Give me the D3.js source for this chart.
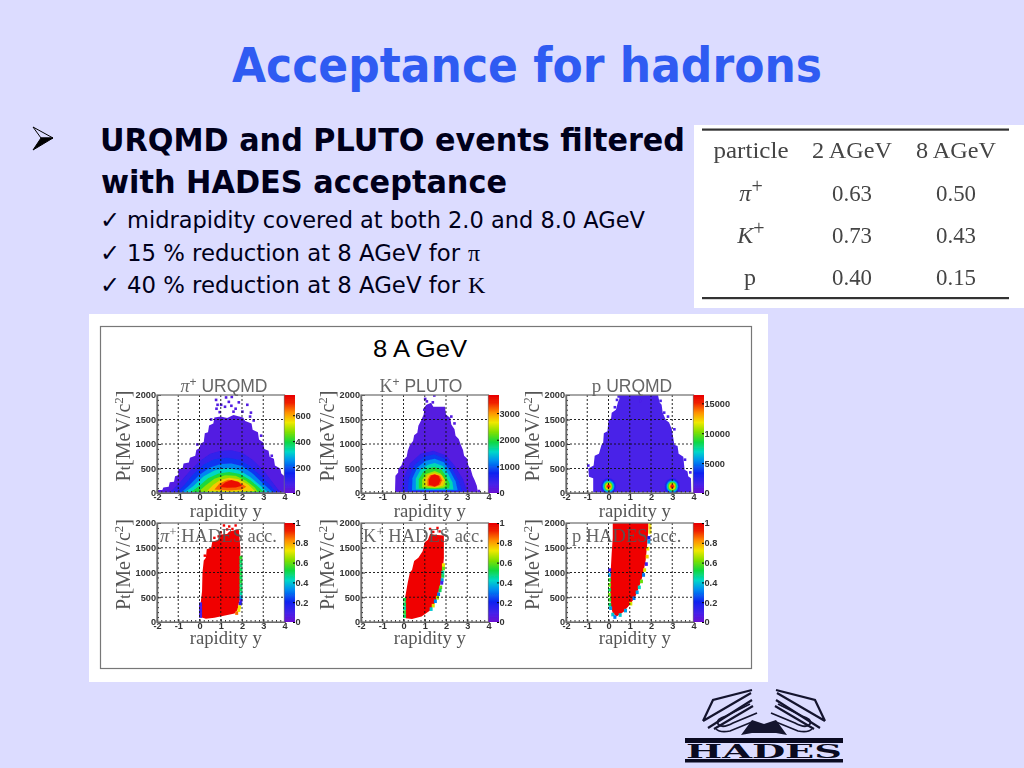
<!DOCTYPE html>
<html><head><meta charset="utf-8">
<script src="https://cdn.jsdelivr.net/npm/d3@7/dist/d3.min.js"></script>
<style>
html,body{margin:0;padding:0;background:#dcdcff;overflow:hidden}
svg{display:block}
.tick text{font-family:"Liberation Sans";font-weight:bold;font-size:9.2px;fill:#333}
</style></head><body><svg id="c" width="1024" height="768"></svg>
<script>
// ---------- slide text ----------
const slideTitle = "Acceptance for hadrons";
const headLines = ["URQMD and PLUTO events filtered", "with HADES acceptance"];
const subLines = ["midrapidity covered at both 2.0 and 8.0 AGeV", "15 % reduction at 8 AGeV for", "40 % reduction at 8 AGeV for"];
const subSymbols = ["", "π", "K"];
const energyLabel = "8 A GeV";
// ---------- table ----------
const tableHeader = ["particle", "2 AGeV", "8 AGeV"];
const tableParticles = [["π","+"], ["K","+"], ["p",""]];
const table2AGeV = ["0.63", "0.73", "0.40"];
const table8AGeV = ["0.50", "0.43", "0.15"];
// ---------- axis ticks ----------
const rapidityTicks = [-2,-1,0,1,2,3,4];
const ptTicks = [0,500,1000,1500,2000];
const pionBarTicks = [0,200,400,600];
const kaonBarTicks = [0,1000,2000,3000];
const protonBarTicks = [0,5000,10000,15000];
const accBarTicks = [0,0.2,0.4,0.6,0.8,1];
// ---------- pi+ URQMD: iso-density outlines as [rapidity, Pt] ----------
const pionLevels = [45,100,170,240,320,400,480,570,650,730];
const pionShapes = [
 [[-2,10],[-1.95,60],[-1.75,60],[-1.7,110],[-1.45,130],[-1.4,220],[-1.2,230],[-1.15,340],[-1,360],[-1,490],[-.8,500],[-.75,600],[-.5,620],[-.45,720],[-.2,760],[-.15,880],[0,920],[.05,1010],[.2,1040],[.25,1220],[.4,1240],[.45,1380],[.65,1420],[.7,1540],[1.0,1560],[1.3,1530],[1.6,1590],[2.05,1540],[2.15,1470],[2.45,1420],[2.5,1290],[2.75,1240],[2.8,1090],[3,1030],[3.05,900],[3.25,860],[3.3,740],[3.5,700],[3.55,560],[3.8,500],[3.85,400],[4,340],[4,5],[-2,5]],
 [[-1.4,15],[-1,180],[-.5,430],[0,650],[.5,800],[1,860],[1.5,870],[2,820],[2.5,680],[3,470],[3.4,240],[3.8,15]],
 [[-1.05,15],[-.7,170],[-.3,380],[.2,580],[.7,690],[1.3,720],[1.9,680],[2.4,540],[2.9,340],[3.3,170],[3.6,15]],
 [[-.85,15],[-.5,150],[0,370],[.5,520],[1,590],[1.5,600],[2,550],[2.5,400],[3,190],[3.45,15]],
 [[-.7,15],[-.3,140],[.2,340],[.7,460],[1.3,510],[1.9,460],[2.4,320],[2.9,140],[3.2,15]],
 [[-.4,18],[0,150],[.4,300],[.9,400],[1.4,430],[1.9,390],[2.4,260],[2.8,110],[3,18]],
 [[-.05,25],[.3,160],[.7,290],[1.2,360],[1.7,350],[2.2,250],[2.6,110],[2.75,25]],
 [[.35,35],[.65,170],[1,270],[1.4,310],[1.85,280],[2.3,170],[2.6,40],[1.5,28]],
 [[.7,70],[.95,200],[1.35,270],[1.8,240],[2.2,130],[2,70],[1.4,50]],
 [[.95,125],[1.2,215],[1.5,265],[1.85,220],[2,150],[1.7,110],[1.3,105]]
];
const pionSpeckles = [[.78,1900],[.85,1800],[.8,1720],[.95,1650],[1.02,1800],[1.2,1760],[1.25,1950],[1.38,1860],[1.5,1780],[1.52,1960],[1.6,1660],[1.7,1720],[1.85,1850],[2.02,1660],[2.25,1800],[2.42,1640],[2.38,1560],[2.55,1480],[2.9,1170],[.55,1500],[-.1,990],[3.4,760]];
// ---------- K+ PLUTO ----------
const kaonLevels = [200,500,850,1200,1600,2000,2400,2800,3200,3550];
const kaonShapes = [
 [[-.4,20],[-.38,350],[-.25,420],[-.25,490],[-.1,560],[0,680],[.15,740],[.2,860],[.3,980],[.45,1060],[.5,1180],[.65,1230],[.7,1370],[.84,1490],[.95,1600],[1.0,1760],[1.08,1800],[1.3,1840],[1.4,1760],[1.95,1760],[2.0,1600],[2.2,1530],[2.25,1400],[2.4,1300],[2.45,1170],[2.6,1100],[2.7,980],[2.8,880],[2.85,760],[3.0,700],[3.05,560],[3.17,475],[3.25,350],[3.35,260],[3.45,150],[3.5,20]],
 [[-.1,25],[0,300],[.3,600],[.8,800],[1.4,860],[2,770],[2.4,560],[2.8,280],[3,25]],
 [[.2,40],[.25,300],[.5,560],[.95,740],[1.45,790],[1.95,700],[2.3,480],[2.6,250],[2.75,40]],
 [[.4,55],[.42,300],[.65,520],[1.05,660],[1.47,700],[1.9,630],[2.2,440],[2.45,240],[2.55,55]],
 [[.58,70],[.58,290],[.8,470],[1.15,575],[1.47,610],[1.85,550],[2.1,390],[2.3,220],[2.35,70]],
 [[.72,90],[.72,280],[.92,430],[1.2,510],[1.47,530],[1.78,480],[2,340],[2.18,190],[2.15,95],[1.47,80]],
 [[.88,110],[.88,270],[1.05,390],[1.47,450],[1.75,400],[1.95,270],[2.02,170],[1.9,110],[1.47,95]],
 [[1.02,150],[1.0,270],[1.15,370],[1.47,410],[1.8,360],[1.95,260],[1.85,150],[1.47,110]],
 [[1.13,150],[1.13,270],[1.25,360],[1.47,385],[1.72,345],[1.82,260],[1.72,165],[1.47,125]],
 [[1.2,170],[1.2,270],[1.3,355],[1.47,380],[1.65,350],[1.74,260],[1.65,170],[1.47,135]]
];
const kaonSpeckles = [[1.02,1920],[1.1,1870],[1.38,1850],[1.45,1990],[.98,1700],[2.25,1560],[2.4,1420],[3.3,60],[3.55,40]];
// ---------- p URQMD ----------
const protonLevels = [1300,2200,3500,5000,6500,8000,10000,12000,14000,15800];
const protonShapes = [
 [[-.72,15],[-.72,300],[-.92,330],[-.95,500],[-.7,560],[-.65,760],[-.45,800],[-.33,980],[-.25,1030],[-.22,1220],[-.05,1260],[0,1490],[.12,1520],[.15,1640],[.35,1700],[.45,1860],[.5,1900],[.53,2000],[2.33,2000],[2.4,1850],[2.5,1800],[2.55,1640],[2.7,1490],[2.85,1440],[2.98,1300],[3.1,983],[3.25,960],[3.3,800],[3.52,740],[3.58,475],[3.72,440],[3.75,340],[3.88,300],[3.9,15]]
];
const protonSpots = [0, 3];
const protonSpotPt = 135;
const protonSpotLevels = [2200,3500,5000,6500,8000,10000,12000,14000,15800];
const protonSpotRadY = [.36,.32,.28,.25,.21,.18,.14,.11,.07];
const protonSpotRadPt = [165,150,132,115,98,82,66,48,30];
const protonSpeckles = [[-.95,560],[.3,1750],[.4,1900],[.48,1970],[1.5,1880],[2.45,1880],[2.62,1640],[2.8,1560],[3.1,1300],[3.6,680],[3.85,420]];
// ---------- HADES acceptance: red area plus edge cells [rapidity, Pt, value] ----------
const pionAccShape = [[.06,95],[.06,400],[.12,620],[.14,1000],[.2,1240],[.3,1300],[.34,1470],[.55,1500],[.6,1620],[.9,1660],[1,1770],[1.3,1780],[1.4,1830],[1.85,1870],[1.92,1500],[1.92,480],[1.85,380],[1.8,250],[1.65,170],[1.2,130],[.7,85],[.3,65]];
const pionAccCells = [[.05,120,.08],[.05,180,.08],[.05,240,.1],[.05,300,.05],[.05,360,.1],[1.95,1300,.55],[1.95,1220,.5],[1.95,1140,.48],[1.95,1060,.5],[1.95,980,.52],[1.95,900,.5],[1.95,820,.53],[1.95,740,.48],[1.95,660,.5],[1.95,580,.45],[1.95,500,.35],[1.95,430,.08],[1.92,370,.15],[1.88,300,.72],[1.85,240,.72],[1.75,180,.85]];
const pionAccSpeckles = [[1,1810],[1.15,1950],[1.4,1930],[1.55,1880],[1.7,1950],[1.3,1870],[.7,1700],[.25,1340],[.9,1730]];
const kaonAccShape = [[.1,75],[.08,500],[.2,800],[.3,1000],[.4,1050],[.5,1230],[.7,1300],[.9,1430],[1,1610],[1.15,1660],[1.25,1780],[1.6,1760],[1.9,1750],[1.9,1300],[1.85,1050],[1.75,800],[1.65,600],[1.5,400],[1.25,230],[.85,110],[.4,60]];
const kaonAccCells = [[.05,120,.5],[.05,200,.55],[.05,280,.45],[.05,360,.5],[.05,450,.52],[1.88,1150,.72],[1.88,1080,.6],[1.85,1000,.45],[1.85,930,.5],[1.82,850,.35],[1.8,790,.1],[1.75,700,.6],[1.72,640,.5],[1.65,560,.3],[1.6,490,.65],[1.5,420,.32],[1.4,330,.7],[1.3,260,.4]];
const kaonAccSpeckles = [[1.25,1880],[1.4,1820],[1.6,1900],[1.7,1830]];
const protonAccShape = [[.12,300],[.08,600],[.1,1000],[.15,1400],[.2,1700],[.2,2000],[1.88,2000],[1.85,1700],[1.75,1250],[1.62,950],[1.45,720],[1.25,500],[1,350],[.7,200],[.38,110],[.2,180]];
const protonAccCells = [[.05,1050,.12],[.05,950,.35],[.05,850,.55],[.05,750,.6],[.05,650,.5],[.05,550,.6],[.05,450,.55],[.06,350,.5],[.1,280,.35],[.2,150,.4],[.3,100,.3],[1.95,1980,.72],[1.95,1900,.75],[1.95,1820,.72],[1.9,1700,.2],[1.9,1620,.35],[1.85,1480,.72],[1.82,1320,.75],[1.78,1170,.1],[1.7,1050,.7],[1.65,950,.3],[1.55,820,.6],[1.45,700,.42],[1.35,600,.35],[1.2,480,.3],[1.05,370,.7],[.8,230,.35],[.55,140,.4]];
const protonAccSpeckles = [];
// ---------- colour palette of the z axis ----------
const paletteFractions = [0,.08,.2,.33,.42,.52,.62,.72,.82,.92,1];
const paletteColors = ["#6a10d0","#4a20e8","#1020f0","#0090f0","#00d8c8","#10d840","#80e000","#f0e800","#ff9000","#f02000","#e80000"];

const palette = d3.scaleLinear().domain(paletteFractions).range(paletteColors);
const svg = d3.select("#c");
const defs = svg.append("defs");
const blur = defs.append("filter").attr("id","soft").attr("x","-5%").attr("y","-5%").attr("width","110%").attr("height","110%");
blur.append("feGaussianBlur").attr("stdDeviation",0.6);
const blur2 = defs.append("filter").attr("id","soft2");
blur2.append("feGaussianBlur").attr("stdDeviation",0.4);
const grad = defs.append("linearGradient").attr("id","zbar").attr("x1",0).attr("x2",0).attr("y1",1).attr("y2",0);
paletteFractions.forEach((f,i)=>grad.append("stop").attr("offset",f).attr("stop-color",paletteColors[i]));

const BODY = "'DejaVu Sans'", SERIF = "'Liberation Serif'", SANS = "'Liberation Sans'";
function txt(g,x,y,s,o={}){
  const t = g.append("text").attr("x",x).attr("y",y).text(s)
    .attr("font-family",o.f||BODY).attr("font-size",o.s||24).attr("fill",o.c||"#000");
  if(o.w) t.attr("font-weight",o.w);
  if(o.a) t.attr("text-anchor",o.a);
  if(o.l) t.attr("textLength",o.l).attr("lengthAdjust","spacingAndGlyphs");
  return t;
}
// background
svg.append("rect").attr("width",1024).attr("height",768).attr("fill","#dcdcff");
// slide title
txt(svg,232,82,slideTitle,{s:48,w:"bold",c:"#2f5bf2",l:590});
// bullet
svg.append("path").attr("d","M33,127 L53,138 L41,138 Z").attr("fill","#dcdcff").attr("stroke","#000").attr("stroke-width",1);
svg.append("path").attr("d","M33,150 L53,138 L41,138 Z").attr("fill","#000").attr("stroke","#000").attr("stroke-width",1);
txt(svg,100,151,headLines[0],{s:32,w:"bold",l:585,c:"#00001a"});
txt(svg,101,193,headLines[1],{s:32,w:"bold",l:406,c:"#00001a"});
const subBase=[228,261,293], subEnd=[518,333,333];
subLines.forEach((s,i)=>{
  txt(svg,100,subBase[i],"✓",{s:24,c:"#00001a"});
  txt(svg,127,subBase[i],s,{s:23,l:subEnd[i],c:"#00001a"});
  if(subSymbols[i]) txt(svg,468,subBase[i],subSymbols[i],{f:SERIF,s:24,c:"#00001a"});
});
// table
const tg = svg.append("g");
tg.append("rect").attr("x",694).attr("y",125).attr("width",330).attr("height",183).attr("fill","#fff");
const tc = [751,852,956], tb=[158,201,243,285];
[129.5,298].forEach(y=>tg.append("rect").attr("x",702).attr("y",y-1).attr("width",307).attr("height",2.2).attr("fill","#333"));
const tGroup = tg.append("g").attr("filter","url(#soft2)");
tableHeader.forEach((h,i)=>txt(tGroup,tc[i],tb[0],h,{f:SERIF,s:24,c:"#444",a:"middle",l:i?80:75}));
tableParticles.forEach((p,i)=>{
  const t = txt(tGroup,tc[0]-(i===2?1:0),tb[i+1],"",{f:SERIF,s:24,c:"#444",a:"middle"});
  t.append("tspan").text(p[0]).attr("font-style",i<2?"italic":"normal");
  if(p[1]) t.append("tspan").text(p[1]).attr("dy",-8).attr("font-size",20);
  txt(tGroup,tc[1],tb[i+1],table2AGeV[i],{f:SERIF,s:24,c:"#444",a:"middle",l:40});
  txt(tGroup,tc[2],tb[i+1],table8AGeV[i],{f:SERIF,s:24,c:"#444",a:"middle",l:40});
});
// figure
svg.append("rect").attr("x",89).attr("y",314).attr("width",679).attr("height",368).attr("fill","#fff");
svg.append("rect").attr("x",100.5).attr("y",326.5).attr("width",651).attr("height",342).attr("fill","none").attr("stroke","#777").attr("stroke-width",1.2);
txt(svg,373,357,energyLabel,{f:SANS,s:24,l:94});

const panels = [
 {x:157,y:395,h:98,t:[["π",1],["+",2],[" URQMD",0]],tx:224,ty:392,lv:pionLevels,sh:pionShapes,sp:pionSpeckles,max:756,bt:pionBarTicks},
 {x:361,y:395,h:98,t:[["K",0],["+",2],[" PLUTO",0]],tx:421,ty:392,lv:kaonLevels,sh:kaonShapes,sp:kaonSpeckles,max:3680,bt:kaonBarTicks},
 {x:566,y:395,h:98,t:[["p",3],[" URQMD",0]],tx:632,ty:392,lv:protonLevels.slice(0,1),sh:protonShapes,sp:protonSpeckles,max:16400,bt:protonBarTicks,spots:true},
 {x:157,y:523,h:99,acc:pionAccShape,cells:pionAccCells,sp:pionAccSpeckles,at:"HADES acc.",am:"π",ax:160,max:1,bt:accBarTicks},
 {x:361,y:523,h:99,acc:kaonAccShape,cells:kaonAccCells,sp:kaonAccSpeckles,at:"HADES acc.",am:"K",ax:363,max:1,bt:accBarTicks},
 {x:566,y:523,h:99,acc:protonAccShape,cells:protonAccCells,sp:protonAccSpeckles,at:"HADES acc.",am:"p",ax:572,max:1,bt:accBarTicks}
];
const W = 127.5, BAR = 10.5;
panels.forEach((p,idx)=>{
  const g = svg.append("g").attr("filter","url(#soft)");
  const xs = d3.scaleLinear().domain([-2,4]).range([p.x,p.x+W]);
  const ys = d3.scaleLinear().domain([0,2000]).range([p.y+p.h,p.y]);
  const zs = d3.scaleLinear().domain([0,p.max]).range([p.y+p.h,p.y]);
  const col = v => palette(v/p.max);
  const line = d3.line().x(d=>xs(d[0])).y(d=>ys(d[1]));
  const clipId = "clip"+idx;
  defs.append("clipPath").attr("id",clipId).append("rect").attr("x",p.x).attr("y",p.y).attr("width",W).attr("height",p.h);
  const plot = g.append("g").attr("clip-path",`url(#${clipId})`);
  if(p.sh){
    p.sh.forEach((s,i)=>plot.append("path").attr("d",line(s)+"Z").attr("fill",col(p.lv[i])));
    plot.selectAll(null).data(p.sp).join("rect")
      .attr("x",d=>xs(d[0])-1.3).attr("y",d=>ys(d[1])-1.3).attr("width",2.6).attr("height",2.6).attr("fill",col(p.lv[0]));
  }
  if(p.spots){
    protonSpots.forEach(c=>{
      protonSpotLevels.forEach((l,i)=>{
        plot.append("ellipse").attr("cx",xs(c)).attr("cy",ys(protonSpotPt))
          .attr("rx",xs(protonSpotRadY[i])-xs(0)).attr("ry",ys(0)-ys(protonSpotRadPt[i]))
          .attr("fill",col(l));
      });
    });
  }
  if(p.acc){
    plot.append("path").attr("d",line(p.acc)+"Z").attr("fill","#f00000");
    plot.selectAll(null).data(p.sp).join("rect")
      .attr("x",d=>xs(d[0])-1.2).attr("y",d=>ys(d[1])-1.2).attr("width",2.4).attr("height",2.4).attr("fill","#f00000");
    plot.selectAll(null).data(p.cells).join("rect")
      .attr("x",d=>xs(d[0])-1.5).attr("y",d=>ys(d[1])-1.8).attr("width",3).attr("height",3.6).attr("fill",d=>palette(d[2]));
  }
  // dotted grid
  const grid = g.append("g").attr("stroke","#111").attr("stroke-width",.9).attr("stroke-dasharray","2,2");
  rapidityTicks.slice(1,-1).forEach(v=>grid.append("line").attr("x1",xs(v)).attr("x2",xs(v)).attr("y1",p.y).attr("y2",p.y+p.h));
  ptTicks.slice(1,-1).forEach(v=>grid.append("line").attr("y1",ys(v)).attr("y2",ys(v)).attr("x1",p.x).attr("x2",p.x+W));
  // axes
  g.append("g").attr("transform",`translate(0,${p.y+p.h})`)
    .call(d3.axisBottom(xs).tickValues(rapidityTicks).tickSize(-3).tickPadding(0).tickFormat(d=>String(d)));
  g.append("g").attr("transform",`translate(${p.x},0)`)
    .call(d3.axisLeft(ys).tickValues(ptTicks).tickSize(-4).tickPadding(1).tickFormat(d=>String(d)));
  g.append("g").attr("transform",`translate(${p.x},0)`)
    .call(d3.axisLeft(ys).tickValues(d3.range(0,2001,100)).tickSize(-2).tickFormat(""));
  g.append("g").attr("transform",`translate(0,${p.y+p.h})`)
    .call(d3.axisBottom(xs).tickValues(d3.range(-2,4.01,.2)).tickSize(-2).tickFormat(""));
  g.selectAll(".domain").attr("stroke","#555").attr("stroke-width",1.2);
  g.selectAll(".tick line").attr("stroke","#333");
  // frame
  g.append("rect").attr("x",p.x).attr("y",p.y).attr("width",W).attr("height",p.h).attr("fill","none").attr("stroke","#777").attr("stroke-width",1.3);
  // z colour bar
  g.append("rect").attr("x",p.x+W).attr("y",p.y).attr("width",BAR).attr("height",p.h).attr("fill","url(#zbar)");
  g.append("g").attr("transform",`translate(${p.x+W+BAR},0)`)
    .call(d3.axisRight(zs).tickValues(p.bt).tickSize(-2).tickPadding(0.5).tickFormat(d=>d))
    .call(a=>a.select(".domain").remove());
  // labels
  const lab = svg.append("g").attr("filter","url(#soft2)");
  const yl = lab.append("text").attr("transform",`translate(${p.x-27},${p.y+p.h/2-8}) rotate(-90)`).attr("text-anchor","middle")
    .attr("font-family",SERIF).attr("font-size",20).attr("fill","#555");
  yl.append("tspan").text("P");
  yl.append("tspan").text("t").attr("font-size",16);
  yl.append("tspan").text("[MeV/c");
  yl.append("tspan").text("2").attr("dy",-7).attr("font-size",13);
  yl.append("tspan").text("]").attr("dy",7);
  txt(lab,p.x+W/2+5,p.y+p.h+(idx<3?24:22),"rapidity y",{f:SERIF,s:18,c:"#555",a:"middle",l:72});
  if(p.t){
    const t = txt(lab,p.tx,p.ty,"",{f:SANS,s:17.5,c:"#666",a:"middle"});
    p.t.forEach(([s,k])=>{
      const sp = t.append("tspan").text(s);
      if(k===1) sp.attr("font-family",SERIF).attr("font-style","italic").attr("font-size",18);
      if(k===3) sp.attr("font-family",SERIF).attr("font-size",19);
      if(k===2) sp.attr("dy",-6).attr("font-size",12);
      else if(t.selectAll("tspan").size()>1 && k===0) sp.attr("dy",p.t.length===3?6:0);
      if(s==="K") sp.attr("font-family",SERIF).attr("font-size",18);
    });
  }
  if(p.at){
    const t = txt(lab,p.ax,p.y+19,"",{f:SERIF,s:18.5,c:"#555"}).attr("opacity",.9);
    t.append("tspan").text(p.am).attr("font-style",p.am==="π"?"italic":"normal");
    if(p.am!=="p") t.append("tspan").text("+").attr("dy",-6).attr("font-size",13);
    t.append("tspan").text(" "+p.at).attr("dy",p.am!=="p"?6:0);
  }
});

// HADES logo
const logo = svg.append("g").attr("stroke","#14142e").attr("fill","none").attr("stroke-width",2.2);
function wing(sel){
  sel.append("path").attr("d","M703,721 L713,700 L752,690 M703,721 L751,693 M708,728 L752,700 M714,729 L753,706");
  sel.append("path").attr("d","M757,713 L733,723 Q722,729 718,724 Q716,719 726,716 L750,704").attr("stroke-width",1.8);
  sel.append("path").attr("d","M752,722 L730,731 Q720,733 716,729").attr("stroke-width",1.6);
}
wing(logo.append("g"));
wing(logo.append("g").attr("transform","translate(1528,0) scale(-1,1)"));
svg.append("path").attr("d","M741,735 L752,720 L764,724 L776,720 L787,735 L776,733 L752,733 Z").attr("fill","#14142e");
svg.append("rect").attr("x",685).attr("y",738).attr("width",158).attr("height",5).attr("fill","#0a0a20");
svg.append("rect").attr("x",685).attr("y",759).attr("width",158).attr("height",3.5).attr("fill","#0a0a20");
txt(svg,686,758,"HADES",{f:"'DejaVu Serif'",s:18,w:"bold",c:"#0a0a20",l:156});
</script></body></html>
